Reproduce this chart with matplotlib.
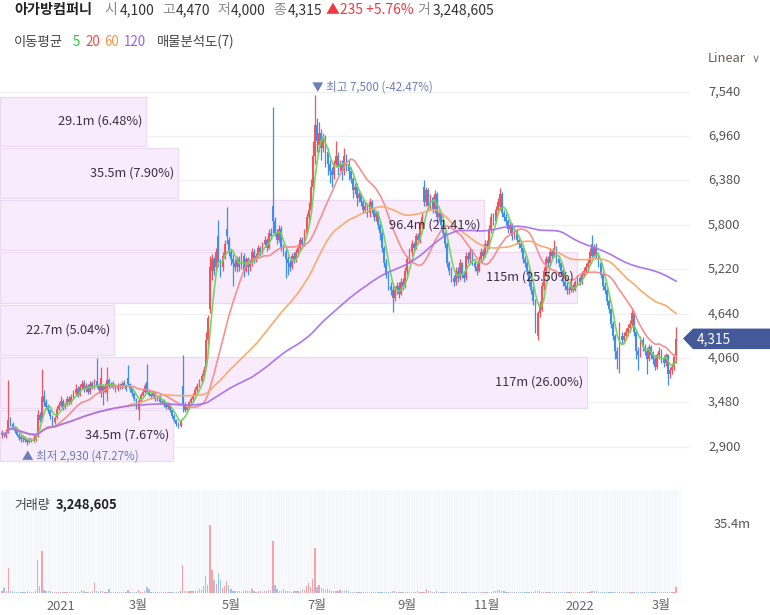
import numpy as np
import pandas as pd
import matplotlib
matplotlib.use("Agg")
import matplotlib.pyplot as plt
from matplotlib.patches import Polygon, Rectangle

plt.rcParams['font.family'] = ['Noto Sans CJK KR', 'DejaVu Sans']

# ---------------- data ----------------
open_ = [3050,3080,3040,3100,3260,3200,3150,3110,3060,3030,
         3000,3020,3000,2960,3000,2980,3000,3050,3320,3260,
         3560,3480,3430,3380,3300,3230,3290,3400,3450,3500,
         3420,3460,3530,3480,3550,3600,3660,3580,3680,3730,
         3650,3700,3620,3730,3680,3760,3700,3600,3700,3620,
         3620,3780,3700,3730,3690,3650,3710,3680,3730,3700,
         3800,3720,3660,3600,3520,3380,3500,3580,3620,3750,
         3620,3590,3560,3600,3520,3560,3480,3500,3460,3420,
         3460,3380,3310,3250,3210,3170,3700,3450,3380,3420,
         3480,3520,3580,3640,3700,3760,3820,3950,4300,4700,
         5200,5350,5250,5650,5300,5250,5400,5750,5600,5450,
         5350,5300,5250,5350,5250,5400,5200,5350,5250,5300,
         5450,5350,5400,5500,5450,5550,5600,5500,5700,6050,
         5850,5700,5600,5750,5500,5450,5350,5300,5250,5400,
         5350,5450,5500,5600,5550,5700,5900,6000,6300,6700,
         7100,6850,7000,6800,6950,6750,6600,6500,6450,6600,
         6700,6550,6600,6500,6700,6600,6500,6400,6250,6300,
         6150,6200,6100,6000,6050,5950,6100,6000,5900,5950,
         5800,5700,5500,5300,5150,5000,4950,4850,4950,5000,
         4900,5050,5000,5200,5350,5450,5550,5500,5650,5600,
         5800,6300,6100,6250,6050,6150,6000,6200,5900,5950,
         5800,5700,5550,5300,5200,5100,5050,5200,5100,5300,
         5150,5100,5400,5350,5450,5300,5250,5200,5350,5450,
         5400,5550,5500,5750,5900,5850,6000,6050,6200,5950,
         5900,5850,5750,5800,5650,5700,5600,5550,5500,5350,
         5300,5200,5050,4950,4800,4350,4650,4700,5000,5200,
         5350,5300,5450,5400,5500,5350,5300,5200,5050,5000,
         4950,4950,5000,4950,5050,5100,5050,5150,5200,5250,
         5300,5550,5400,5500,5400,5300,5150,5000,4950,4800,
         4700,4500,4350,4150,4100,4350,4300,4350,4400,4450,
         4500,4650,4400,4150,4100,4300,4200,4150,4050,4200,
         4100,4050,3950,4100,4150,4050,4000,4100,3850,3900,
         3950,4100]
close = [3080,3050,3100,3250,3200,3150,3110,3060,3020,3000,
         3010,2990,2960,3000,2980,3020,3050,3320,3250,3550,
         3480,3420,3380,3300,3230,3280,3400,3450,3500,3420,
         3460,3520,3480,3550,3600,3650,3580,3680,3720,3650,
         3700,3620,3720,3680,3750,3700,3640,3800,3620,3700,
         3780,3700,3720,3680,3650,3700,3680,3720,3700,3660,
         3720,3650,3600,3520,3420,3500,3580,3620,3700,3620,
         3580,3560,3600,3520,3550,3480,3500,3450,3420,3460,
         3380,3300,3250,3200,3170,3230,3450,3380,3420,3480,
         3520,3580,3640,3700,3760,3820,3900,4300,4580,5250,
         5350,5200,5450,5300,5250,5400,5550,5650,5450,5350,
         5300,5250,5350,5250,5400,5200,5350,5250,5300,5450,
         5350,5400,5500,5450,5550,5600,5500,5700,5650,5850,
         5700,5600,5750,5500,5450,5350,5300,5250,5400,5350,
         5450,5500,5600,5550,5700,5900,6000,6300,6700,7100,
         6900,7000,6800,6950,6700,6600,6500,6450,6600,6700,
         6550,6600,6500,6700,6600,6500,6400,6250,6300,6150,
         6200,6100,6000,6050,5950,6100,6000,5900,5950,5800,
         5700,5500,5300,5150,5000,4950,4850,4950,5000,4900,
         5050,5000,5200,5350,5450,5550,5500,5650,5600,5800,
         5900,6100,6250,6050,6150,6000,6200,5900,5950,5800,
         5700,5550,5300,5200,5100,5050,5200,5100,5300,5150,
         5100,5400,5350,5450,5300,5250,5200,5350,5450,5400,
         5550,5500,5750,5900,5850,6000,6100,6200,5950,5900,
         5850,5750,5800,5650,5700,5600,5550,5500,5350,5300,
         5200,5050,4950,4800,4500,4650,4750,5000,5200,5350,
         5300,5450,5400,5500,5350,5300,5200,5050,5000,4950,
         4950,5000,4950,5050,5100,5050,5150,5200,5250,5300,
         5450,5400,5500,5400,5300,5150,5000,4950,4800,4700,
         4500,4350,4150,4050,4350,4300,4350,4400,4450,4500,
         4650,4400,4150,4100,4300,4200,4150,4050,4200,4100,
         4050,3950,4100,4150,4050,4000,4100,3850,3900,3950,
         4080,4315]
high = [3120,3100,3130,3770,3290,3230,3170,3130,3080,3060,
        3050,3040,3020,3030,3020,3050,3080,3380,3350,3920,
        3640,3520,3460,3400,3320,3300,3430,3480,3560,3530,
        3490,3560,3560,3590,3640,3720,3690,3720,3780,3770,
        3740,3720,3760,3760,3790,4060,3730,3940,3720,3730,
        3950,3800,3750,3760,3710,3730,3740,3760,3770,3720,
        3970,3740,3680,3620,3540,3520,3600,3650,3730,3980,
        3650,3610,3640,3620,3580,3590,3530,3520,3480,3490,
        3470,3400,3330,3270,3230,3260,4100,3480,3440,3500,
        3550,3600,3680,3740,3790,3860,3960,4400,4620,5400,
        5420,5380,5500,5860,5360,5450,5600,6030,5640,5480,
        5420,5350,5400,5400,5450,5430,5380,5380,5340,5500,
        5480,5430,5540,5530,5580,5650,5630,5750,5760,7340,
        5900,5750,5800,5780,5550,5480,5400,5340,5430,5450,
        5480,5550,5640,5640,5750,5950,6100,6400,6900,7500,
        7200,7150,7050,7000,6980,6800,6650,6560,6650,6900,
        6750,6650,6650,6800,6720,6650,6550,6420,6350,6350,
        6250,6220,6120,6100,6080,6150,6130,6030,6000,5980,
        5850,5750,5530,5350,5200,5050,5000,5000,5060,5050,
        5100,5100,5250,5400,5500,5600,5580,5700,5700,5850,
        5950,6380,6300,6280,6200,6180,6250,6230,6000,5980,
        5850,5720,5580,5330,5250,5150,5250,5250,5350,5320,
        5200,5450,5450,5500,5480,5350,5300,5400,5500,5480,
        5600,5600,5800,5950,5950,6050,6150,6280,6230,6000,
        5950,5880,5850,5830,5750,5740,5650,5600,5530,5400,
        5350,5230,5100,5000,4830,4680,4800,5050,5250,5400,
        5400,5500,5480,5600,5520,5400,5330,5230,5100,5050,
        5000,5050,5030,5080,5150,5130,5200,5250,5300,5350,
        5500,5670,5550,5560,5450,5330,5180,5050,4980,4830,
        4720,4550,4380,4200,4530,4400,4400,4450,4500,4560,
        4710,4680,4430,4200,4350,4330,4250,4200,4250,4230,
        4150,4100,4130,4200,4180,4100,4130,4120,3950,4000,
        4120,4470]
low = [3020,3030,3020,3080,3170,3130,3080,3040,2990,2970,
       2970,2960,2930,2950,2960,2960,2980,3030,3220,3240,
       3440,3390,3340,3260,3160,3200,3270,3380,3420,3380,
       3390,3430,3450,3460,3520,3580,3550,3560,3650,3620,
       3620,3590,3590,3650,3660,3670,3610,3550,3450,3600,
       3500,3670,3680,3650,3620,3630,3650,3660,3680,3630,
       3690,3620,3570,3500,3400,3250,3480,3560,3600,3600,
       3560,3530,3540,3500,3500,3460,3460,3420,3400,3400,
       3360,3280,3230,3170,3150,3160,3350,3350,3370,3400,
       3450,3500,3560,3620,3680,3740,3800,3930,4250,4650,
       5080,5150,5200,5250,5120,5200,5350,5550,5400,5280,
       5000,5200,5180,5200,5220,5120,5180,5150,5200,5260,
       5300,5320,5380,5400,5420,5520,5460,5480,5620,5700,
       5650,5550,5580,5460,5400,5100,5150,5200,5220,5300,
       5320,5400,5460,5520,5530,5680,5800,5950,6250,6600,
       6750,6750,6650,6750,6550,6450,6350,6300,6400,6550,
       6450,6500,6380,6450,6500,6380,6350,6150,6200,6050,
       6100,6050,5950,5950,5900,5900,5950,5850,5850,5750,
       5600,5450,5250,5100,4950,4880,4660,4800,4900,4850,
       4880,4950,4980,5150,5300,5400,5450,5480,5550,5570,
       5750,6050,6050,6000,6000,5950,5950,5850,5850,5750,
       5650,5500,5250,5150,5050,5000,5020,5050,5080,5100,
       5050,5080,5300,5300,5280,5200,5150,5180,5320,5350,
       5380,5450,5480,5700,5800,5820,5950,6000,5900,5850,
       5800,5700,5700,5600,5620,5550,5500,5450,5300,5250,
       5150,5000,4900,4750,4390,4300,4600,4680,4950,5150,
       5250,5280,5350,5380,5300,5250,5150,5000,4950,4900,
       4900,4920,4920,4930,5000,5020,5030,5120,5170,5200,
       5280,5380,5380,5350,5250,5100,4950,4900,4750,4650,
       4450,4300,4050,3920,3870,4250,4260,4300,4350,4400,
       4480,4350,4050,3900,4080,4150,4100,3850,4020,4050,
       3980,3900,3920,4050,4000,3950,3960,3710,3800,3850,
       3900,4000]
volume_m = [0.9,2.6,1.0,13.0,1.2,0.8,0.7,0.6,0.7,0.6,
            0.6,0.7,0.8,0.6,0.5,0.6,0.9,17.4,3.5,22.0,
            1.5,1.2,1.0,0.8,0.7,0.6,0.6,0.5,0.6,0.5,
            0.6,0.5,0.6,0.5,0.6,0.7,0.6,0.5,1.8,1.2,
            0.6,0.5,0.6,0.8,5.0,1.2,0.6,1.0,0.8,0.6,
            0.7,2.0,0.6,0.5,0.6,0.5,0.6,0.7,0.6,0.5,
            1.5,0.6,0.5,0.6,0.7,1.6,0.6,0.5,1.2,3.0,
            2.0,0.6,0.5,0.6,0.5,0.6,0.5,0.6,0.5,0.6,
            0.5,0.6,0.5,0.6,0.5,0.9,14.7,1.2,1.0,1.0,
            1.1,0.9,0.8,1.0,2.0,1.4,3.4,9.0,4.0,35.4,
            12.0,7.0,4.5,10.5,7.0,2.5,3.5,6.0,4.0,2.0,
            1.2,1.0,0.8,0.9,0.7,0.8,1.5,0.8,0.9,2.0,
            0.8,0.7,0.9,0.8,0.7,1.0,0.8,1.6,0.9,27.0,
            4.0,2.0,1.2,1.0,2.0,1.0,0.8,0.9,0.7,0.8,
            0.9,1.0,1.2,2.0,1.8,3.5,5.0,3.0,7.5,23.6,
            3.0,4.0,2.5,2.0,1.5,2.0,1.5,1.2,1.0,0.9,
            1.0,1.5,1.0,0.9,1.5,0.8,0.7,0.6,0.7,0.6,
            0.6,0.5,0.6,0.5,0.6,0.5,0.6,0.5,0.6,0.5,
            0.6,0.5,0.6,0.5,0.6,0.5,0.8,1.0,0.6,0.5,
            0.6,0.5,0.6,0.5,0.6,0.7,0.6,0.5,1.2,0.6,
            0.6,0.7,2.0,1.2,0.8,0.7,0.6,1.0,0.6,0.5,
            0.6,0.5,0.6,0.5,0.6,0.5,0.6,0.5,0.6,0.5,
            0.4,0.5,0.4,0.5,0.4,0.5,0.4,0.5,0.4,0.5,
            0.4,0.5,0.4,0.6,1.0,1.2,1.6,1.4,1.0,0.8,
            0.5,0.4,0.5,0.4,0.5,0.4,0.5,0.4,0.5,0.4,
            0.5,0.4,0.5,0.6,0.9,1.2,0.8,0.6,0.5,0.4,
            0.5,0.4,0.5,0.4,0.5,0.4,0.5,0.4,0.5,0.4,
            0.5,0.4,0.5,0.4,0.5,0.4,0.5,0.4,0.5,0.4,
            0.6,1.0,0.8,1.2,0.6,0.5,0.4,0.5,0.4,0.5,
            0.4,0.5,0.4,0.5,0.4,0.5,0.4,0.5,0.4,0.5,
            0.6,0.5,0.4,0.5,0.4,0.5,0.4,0.5,0.4,0.5,
            0.4,0.5,0.4,0.5,0.4,0.5,0.4,0.5,0.4,0.5,
            0.6,3.25]

ma_periods = [5, 20, 60, 120]
ma_colors = ['#6fd35f', '#f58a8a', '#f7a866', '#a66ff2']
ma_label_colors = ['#2fbf3a', '#f24a4a', '#f5944a', '#9b5ef5']

profile_vol_m = [29.1, 35.5, 96.4, 115, 22.7, 117, 34.5]
profile_pct = [6.48, 7.90, 21.41, 25.50, 5.04, 26.00, 7.67]
profile_labels = ['29.1m', '35.5m', '96.4m', '115m', '22.7m', '117m', '34.5m']
profile_edges = [7484, 6818, 6138, 5459, 4767, 4087, 3395, 2703]

price_ticks = [7540, 6960, 6380, 5800, 5220, 4640, 4060, 3480, 2900]
x_tick_pos = [28, 65, 109, 150, 193, 231, 275, 314]
x_tick_labels = ['2021', '3월', '5월', '7월', '9월', '11월', '2022', '3월']

stock_name = '아가방컴퍼니'
last_volume = '3,248,605'
volume_axis_label = '35.4m'
hi_text = '▼ 최고 7,500 (-42.47%)'
lo_text = '▲ 최저 2,930 (47.27%)'
hi_idx, lo_idx = 149, 12

# ---------------- figure ----------------
W, H = 770, 615
fig = plt.figure(figsize=(W / 100, H / 100), dpi=100)
fig.patch.set_facecolor('white')

def fx(x):
    return x / W

def fy(y):
    return 1 - y / H

def ftext(x, y, s, **kw):
    kw.setdefault('va', 'center')
    kw.setdefault('ha', 'left')
    fig.text(fx(x), fy(y), s, **kw)

n = len(close)
idx = np.arange(n)
o = np.array(open_, float); c = np.array(close, float)
h = np.array(high, float); l = np.array(low, float)

RED = '#f2545b'
BLUE = '#3d8ef0'

# price axes
px0, px1, py0, py1 = 0, 690, 75, 475
ax = fig.add_axes([fx(px0), fy(py1), (px1 - px0) / W, (py1 - py0) / H])
ax.set_xlim((px0 - 2) / 2.1, (px1 - 2) / 2.1)
ppx = 0.07655
ax.set_ylim(7540 - (py1 - 91.7) / ppx, 7540 + (91.7 - py0) / ppx)
ax.axis('off')

for t in price_ticks:
    ax.axhline(t, color='#f0f0f2', lw=0.9, zorder=0)

# volume profile
xmin, xmax = ax.get_xlim()
span = xmax - xmin
vmax = max(profile_vol_m)
gap = 14
for k, v in enumerate(profile_vol_m):
    top = profile_edges[k] - gap
    bot = profile_edges[k + 1] + gap
    length = v / vmax * 0.851 * span
    ax.add_patch(Rectangle((xmin, bot), length, top - bot, facecolor='#f8ecfc',
                           edgecolor='#ecd9f5', lw=0.9, zorder=0.5))
    ax.text(xmin + length - 1.8, (top + bot) / 2,
            f'{profile_labels[k]} ({profile_pct[k]:.2f}%)', ha='right', va='center',
            fontsize=9.2, color='#3b3046', zorder=6)

# candles
up = c >= o
cols = np.where(up, RED, BLUE)
ax.vlines(idx, l, h, colors=cols, lw=0.9, zorder=2)
body_bot = np.minimum(o, c)
body_h = np.maximum(np.abs(c - o), 12)
ax.bar(idx, body_h, bottom=body_bot, width=0.8, color=cols, linewidth=0, zorder=2.5)

# moving averages
s = pd.Series(c)
for p, col in zip(ma_periods, ma_colors):
    ax.plot(idx, s.rolling(p, min_periods=1).mean(), color=col, lw=1.2, zorder=3, alpha=0.95)

# hi/lo annotations
ax.text(hi_idx - 1.6, h[hi_idx] + 100, hi_text, ha='left', va='center', fontsize=8.3,
        color='#6b7fb8', zorder=7)
ax.text(lo_idx - 2.6, l[lo_idx] - 150, lo_text, ha='left', va='center', fontsize=8.3,
        color='#6b7fb8', zorder=7)

# volume axes
vx0, vx1, vy0, vy1 = 0, 682, 490, 593
vax = fig.add_axes([fx(vx0), fy(vy1), (vx1 - vx0) / W, (vy1 - vy0) / H])
vax.set_xlim((vx0 - 2) / 2.1, (vx1 - 2) / 2.1)
vol_top = max(volume_m) * (vy1 - vy0) / 68.0
vax.set_ylim(0, vol_top)
vax.set_facecolor('#f9fafd')
for sp in vax.spines.values():
    sp.set_visible(False)
vax.set_xticks([]); vax.set_yticks([])
prev = np.concatenate([[c[0]], c[:-1]])
vcols = np.where(c >= prev, '#f6a3a8', '#9cc3f2')
vax.bar(idx, volume_m, width=0.65, color=vcols, linewidth=0, zorder=2)
for i in idx:
    vax.axvline(i, color='#f3f5fa', lw=0.5, zorder=0)

# ---------------- texts ----------------
ftext(14, 10, stock_name, fontsize=10.2, fontweight='bold', color='#222222')
hdr = [(104, '시', '#8a8a8a'), (120, '4,100', '#333333'),
       (162, '고', '#8a8a8a'), (176, '4,470', '#333333'),
       (217, '저', '#8a8a8a'), (231, '4,000', '#333333'),
       (273, '종', '#8a8a8a'), (288, '4,315', '#333333'),
       (326, '▲235 +5.76%', '#ee3b43'),
       (417, '거', '#8a8a8a'), (433, last_volume, '#333333')]
for x, t, col in hdr:
    ftext(x, 10, t, fontsize=10, color=col)

ftext(14, 42, '이동평균', fontsize=9.6, color='#444444')
for x, p, col in zip([73, 85, 104, 124], ma_periods, ma_label_colors):
    ftext(x, 42, str(p), fontsize=9.6, color=col)
ftext(157, 42, '매물분석도(7)', fontsize=9.6, color='#444444')

ftext(708, 58, 'Linear', fontsize=9.3, color='#6a5d55')
ftext(752, 59, '∨', fontsize=8, color='#777777', family='DejaVu Sans')

for t in price_ticks:
    y = 91.7 + (7540 - t) * ppx
    ftext(708, y, f'{t:,}', fontsize=9.3, color='#555555')

# last price tag
last = close[-1]
ty = 91.7 + (7540 - last) * ppx
tag = Polygon([(fx(683), fy(ty)), (fx(693), fy(ty - 10)), (fx(770), fy(ty - 10)),
               (fx(770), fy(ty + 10.5)), (fx(693), fy(ty + 10.5))],
              closed=True, transform=fig.transFigure, facecolor='#44599a',
              edgecolor='none', zorder=10)
fig.patches.append(tag)
ftext(697, ty + 0.5, f'{last:,}', fontsize=9.8, color='white', zorder=11)

ftext(14, 505, '거래량', fontsize=9.3, color='#444444')
ftext(56, 505, last_volume, fontsize=9.3, color='#222222', fontweight='bold')
ftext(714, 524, volume_axis_label, fontsize=9.3, color='#555555')

for p, lab in zip(x_tick_pos, x_tick_labels):
    ftext(2 + p * 2.1, 606, lab, fontsize=9.3, color='#666666', ha='center')

fig.savefig('out.png', dpi=100)
